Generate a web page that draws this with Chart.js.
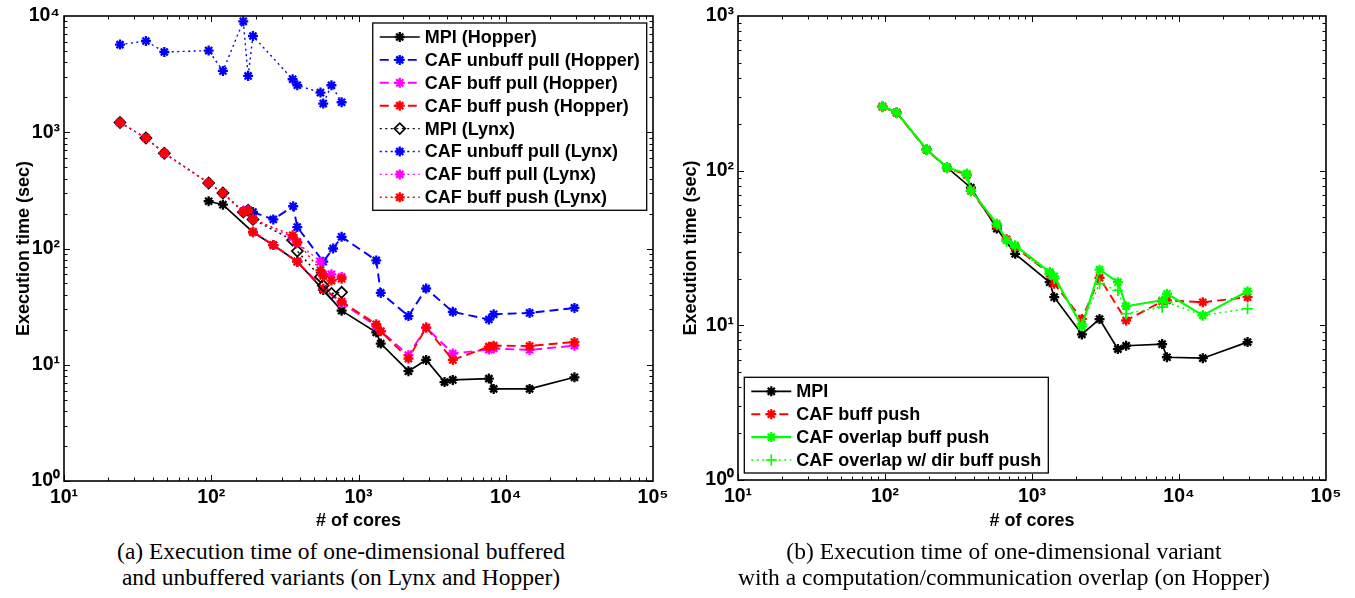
<!DOCTYPE html>
<html>
<head>
<meta charset="utf-8">
<script src="https://cdn.jsdelivr.net/npm/chart.js@4.4.1/dist/chart.umd.min.js"></script>
<style>
  body { margin: 0; background: #fff; width: 1355px; height: 598px; overflow: hidden; position: relative; }
  canvas { position: absolute; top: 0; }
  #chartA { left: 0; }
  #chartB { left: 675px; }
  .cap { position: absolute; top: 538px; width: 600px; text-align: center; white-space: nowrap;
         font-family: "Liberation Serif", "Times New Roman", serif; font-size: 23.5px; line-height: 26px; color: #000; }
</style>
</head>
<body>
<canvas id="chartA" width="680" height="535"></canvas>
<canvas id="chartB" width="680" height="535"></canvas>
<div class="cap" style="left:41px">(a) Execution time of one-dimensional buffered<br>and unbuffered variants (on Lynx and Hopper)</div>
<div class="cap" style="left:704px">(b) Execution time of one-dimensional variant<br>with a computation/communication overlap (on Hopper)</div>
<script>
// tick labels
const xTickVals = [10, 100, 1000, 10000, 100000];
const xTickLabels = ['10¹', '10²', '10³', '10⁴', '10⁵'];
const yTickValsA = [1, 10, 100, 1000, 10000];
const yTickLabelsA = ['10⁰', '10¹', '10²', '10³', '10⁴'];
const yTickValsB = [1, 10, 100, 1000];
const yTickLabelsB = ['10⁰', '10¹', '10²', '10³'];

// (a) Hopper
const hopperCores = [96, 120, 192, 264, 384, 576, 768, 1320, 1416, 2184, 2880, 3840, 4368, 7680, 8280, 14520, 29280];
const hopperMpi = [255, 238, 138, 107, 77, 44, 29.2, 19, 15.2, 8.8, 11, 7.1, 7.4, 7.6, 6.2, 6.2, 7.8];
const hopperUnbuffCores = [192, 264, 360, 384, 576, 672, 768, 1320, 1416, 2184, 2880, 4368, 7680, 8280, 14520, 29280];
const hopperUnbuffPull = [206, 178, 231, 153, 77, 100, 126, 79, 41.5, 26.2, 45.3, 28.5, 24.5, 27.2, 27.9, 30.8];
const hopperBuffCores = [192, 264, 384, 576, 768, 1320, 1416, 2184, 2880, 4368, 7680, 8280, 14520, 29280];
const hopperBuffPull = [139, 107, 77, 45, 34, 21.5, 19.5, 12.1, 20.9, 12.5, 13.5, 13.8, 13.4, 14.6];
const hopperBuffPush = [139, 107, 77, 45, 35, 22.3, 19.4, 11.3, 20.9, 11.0, 14.3, 14.6, 14.5, 15.7];

// (a) Lynx
const lynxCores = [24, 36, 48, 96, 120, 165, 178, 192, 357, 384, 552, 576, 655, 768];
const lynxMpi = [1212, 893, 660, 366, 300, 206, 213, 178, 118, 95, 57, 48, 41, 42];
const lynxUnbuffPull = [5675, 6095, 4902, 5040, 3366, 9000, 3049, 6730, 2856, 2536, 2195, 1766, 2536, 1811];
const lynxBuffPull = [1212, 893, 660, 366, 300, 210, 215, 180, 125, 112, 77, 60, 60, 57];
const lynxBuffPush = [1212, 893, 660, 366, 300, 206, 213, 178, 130, 114, 65, 58, 53, 55];

// (b) Hopper overlap
const bMpi = [260, 238, 137, 105, 77.6, 42.2, 29, 19, 15.2, 8.74, 10.97, 7.02, 7.38, 7.56, 6.22, 6.13, 7.79];
const bPushCores = [96, 120, 192, 264, 360, 384, 576, 672, 768, 1320, 1416, 2184, 2880, 4368, 7680, 8280, 14520, 29280];
const bBuffPush = [258, 236, 136, 104, 94, 74, 44, 36, 32, 21.6, 18.6, 11.0, 20.3, 10.75, 14.3, 14.5, 14.1, 15.2];
const overlapCores = [96, 120, 192, 264, 360, 384, 576, 672, 768, 1320, 1416, 2184, 2880, 3840, 4368, 7680, 8280, 14520, 29280];
const bOverlap = [260, 238, 137, 105, 95.7, 74.6, 45.4, 35.4, 32.9, 22.1, 20.7, 9.84, 22.9, 19.0, 13.3, 14.5, 16.0, 11.6, 16.6];
const bOverlapDir = [258, 236, 136, 104, 93, 74, 45, 35, 32, 21.5, 20, 10.2, 18.6, 16.8, 11.9, 13.1, 14.1, 11.6, 12.8];

const FONT = '"Liberation Sans", Arial, Helvetica, sans-serif';
Chart.defaults.font.family = FONT;
Chart.defaults.font.size = 18;
Chart.defaults.font.weight = 'bold';
Chart.defaults.color = '#000';

const DASH = [9, 5];
const DOT = [2, 3.5];

function series(label, xs, ys, color, dash, marker, opts = {}) {
  return {
    label,
    data: xs.map((x, i) => ({ x, y: ys[i] })),
    borderColor: color,
    borderWidth: opts.lw || 1.9,
    borderDash: dash,
    pointStyle: marker,
    pointRadius: opts.r || 5,
    pointBorderWidth: opts.pw || 2.3,
    pointBorderColor: opts.pc || color,
    pointBackgroundColor: opts.pf || color,
    fill: false,
    tension: 0
  };
}

function logAxis(pos, min, max, vals, labels, title, titlePad, size) {
  return {
    type: 'logarithmic', position: pos, min, max,
    grid: { display: false, drawTicks: false },
    border: { display: false },
    afterBuildTicks: s => { s.ticks = vals.map(v => ({ value: v })); },
    afterFit: s => { if (pos === 'bottom') s.height = size; else s.width = size; },
    ticks: { autoSkip: false, maxRotation: 0, minRotation: 0, padding: pos === 'bottom' ? 5 : 4,
             font: { size: 19.5 }, callback: (v, i) => labels[i] },
    title: { display: true, text: title, padding: titlePad }
  };
}

// matlab style box with inward ticks on all four sides
const frameTicks = {
  id: 'frameTicks',
  afterDatasetsDraw(chart) {
    const { ctx, chartArea: a, scales } = chart;
    const marks = s => {
      const out = [];
      for (let e = Math.round(Math.log10(s.min)); e < Math.round(Math.log10(s.max)); e++)
        for (let k = 1; k < 10; k++) out.push([k * Math.pow(10, e), k === 1]);
      return out;
    };
    ctx.save();
    ctx.strokeStyle = '#000';
    ctx.lineWidth = 1;
    ctx.beginPath();
    for (const [v, major] of marks(scales.x)) {
      const p = Math.round(scales.x.getPixelForValue(v)) + 0.5, len = major ? 6 : 3.5;
      ctx.moveTo(p, a.bottom); ctx.lineTo(p, a.bottom - len);
      ctx.moveTo(p, a.top); ctx.lineTo(p, a.top + len);
    }
    for (const [v, major] of marks(scales.y)) {
      const p = Math.round(scales.y.getPixelForValue(v)) + 0.5, len = major ? 6 : 3.5;
      ctx.moveTo(a.left, p); ctx.lineTo(a.left + len, p);
      ctx.moveTo(a.right, p); ctx.lineTo(a.right - len, p);
    }
    ctx.stroke();
    ctx.lineWidth = 1.6;
    ctx.strokeRect(a.left, a.top, a.right - a.left, a.bottom - a.top);
    ctx.restore();
  }
};

const boxLegend = {
  id: 'boxLegend',
  afterDraw(chart, args, opts) {
    const { ctx, chartArea: a } = chart;
    const sets = chart.data.datasets;
    ctx.save();
    ctx.font = 'bold 18px ' + FONT;
    const tw = Math.max(...sets.map(d => ctx.measureText(d.label).width));
    const rowH = 22.9;
    const w = 7 + 40 + 5 + tw + 7, h = 14 + (sets.length - 1) * rowH + 13;
    const x0 = opts.corner === 'topRight' ? a.right - 6.3 - w : a.left + 6.3;
    const y0 = opts.corner === 'topRight' ? a.top + 7 : a.bottom - 7 - h;
    ctx.fillStyle = '#fff';
    ctx.fillRect(x0, y0, w, h);
    ctx.strokeStyle = '#000';
    ctx.lineWidth = 1.3;
    ctx.strokeRect(x0, y0, w, h);
    sets.forEach((d, i) => {
      const y = y0 + 14 + i * rowH;
      ctx.strokeStyle = d.borderColor;
      ctx.lineWidth = d.borderWidth;
      ctx.setLineDash(d.borderDash || []);
      ctx.beginPath(); ctx.moveTo(x0 + 7, y); ctx.lineTo(x0 + 47, y); ctx.stroke();
      ctx.setLineDash([]);
      ctx.lineWidth = d.pointBorderWidth;
      ctx.fillStyle = d.pointBackgroundColor;
      ctx.strokeStyle = d.pointBorderColor;
      Chart.helpers.drawPoint(ctx, { pointStyle: d.pointStyle, radius: d.pointRadius, rotation: 0, borderWidth: d.pointBorderWidth }, x0 + 27, y);
      ctx.fillStyle = '#000';
      ctx.textBaseline = 'middle';
      ctx.textAlign = 'left';
      ctx.fillText(d.label, x0 + 52, y + 1);
    });
    ctx.restore();
  }
};

function makeChart(id, datasets, yMax, yVals, yLabels, yTitlePad, yWidth, xHeight, padRight, corner) {
  // later series on top, like matlab
  datasets.forEach((d, i) => { d.order = -i; });
  return new Chart(document.getElementById(id), {
    type: 'line',
    data: { datasets },
    options: {
      responsive: false,
      animation: false,
      layout: { padding: { top: 16, right: padRight, left: 0, bottom: 0 } },
      scales: {
        x: logAxis('bottom', 10, 100000, xTickVals, xTickLabels, '# of cores', { bottom: 3 }, xHeight),
        y: logAxis('left', 1, yMax, yVals, yLabels, 'Execution time (sec)', { top: yTitlePad }, yWidth)
      },
      plugins: {
        legend: { display: false },
        tooltip: { enabled: false },
        boxLegend: { corner }
      }
    },
    plugins: [frameTicks, boxLegend]
  });
}

makeChart('chartA', [
  series('MPI (Hopper)', hopperCores, hopperMpi, '#000000', [], 'star', { lw: 1.7 }),
  series('CAF unbuff pull (Hopper)', hopperUnbuffCores, hopperUnbuffPull, '#0000ff', DASH, 'star'),
  series('CAF buff pull (Hopper)', hopperBuffCores, hopperBuffPull, '#ff00ff', DASH, 'star'),
  series('CAF buff push (Hopper)', hopperBuffCores, hopperBuffPush, '#ff0000', DASH, 'star'),
  series('MPI (Lynx)', lynxCores, lynxMpi, '#000000', DOT, 'rectRot', { lw: 1.4, r: 5.5, pw: 1.7, pf: 'rgba(0,0,0,0)' }),
  series('CAF unbuff pull (Lynx)', lynxCores, lynxUnbuffPull, '#0000ff', DOT, 'star', { lw: 1.4 }),
  series('CAF buff pull (Lynx)', lynxCores, lynxBuffPull, '#ff00ff', DOT, 'star', { lw: 1.4 }),
  series('CAF buff push (Lynx)', lynxCores, lynxBuffPush, '#ff0000', DOT, 'star', { lw: 1.4 })
], 10000, yTickValsA, yTickLabelsA, 13, 64, 54, 27, 'topRight');

makeChart('chartB', [
  series('MPI', hopperCores, bMpi, '#000000', [], 'star', { lw: 1.7 }),
  series('CAF buff push', bPushCores, bBuffPush, '#ff0000', DASH, 'star'),
  series('CAF overlap buff push', overlapCores, bOverlap, '#00ff00', [], 'star', { lw: 2.1 }),
  series('CAF overlap w/ dir buff push', overlapCores, bOverlapDir, '#00ff00', DOT, 'cross', { lw: 1.4, r: 5.5, pw: 1.7 })
], 1000, yTickValsB, yTickLabelsB, 5, 63, 55, 29, 'bottomLeft');
</script>
</body>
</html>
